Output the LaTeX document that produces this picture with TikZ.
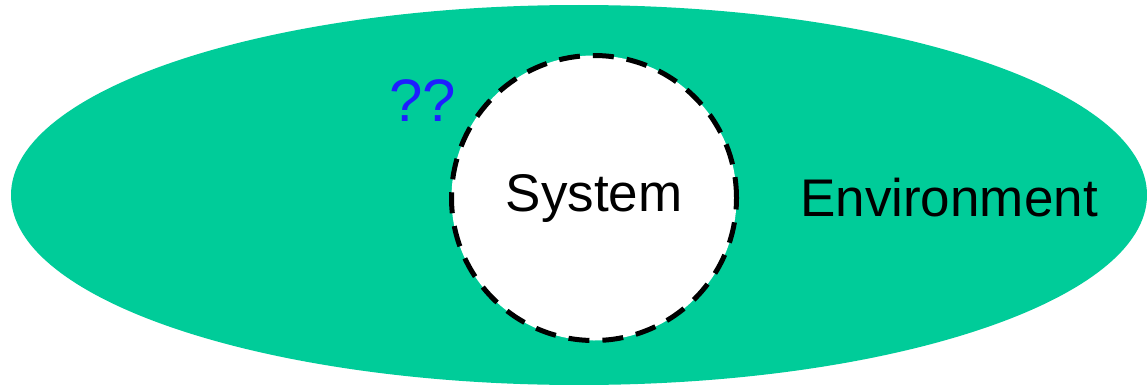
\documentclass[tikz,border=0pt]{standalone}
\usepackage{fontspec}
\setmainfont{Liberation Sans}
\definecolor{envgreen}{RGB}{0,204,153}
\definecolor{qblue}{RGB}{30,30,255}
\begin{document}
\begin{tikzpicture}[x=1pt,y=1pt,
  envstyle/.style={fill=envgreen,draw=none},
  sysstyle/.style={circle,fill=white,draw=black,line width=5pt,dash pattern=on 21pt off 13pt,minimum size=285pt,inner sep=0pt},
  lbl/.style={font=\fontsize{53}{60}\selectfont,text=black,inner sep=0pt}]
\useasboundingbox (0,0) rectangle (1147,384);
\fill[envgreen] (579,189) ellipse [x radius=568, y radius=190];
\node[sysstyle] (sys) at (594,186) {};
\node[lbl] (systxt) at (sys.center) {System};
\node[lbl,anchor=base] (env) at (949,168) {Environment};
\node[lbl,text=qblue,font=\fontsize{60}{66}\selectfont,anchor=base] (q) at (423,263) {??};
\end{tikzpicture}
\end{document}
